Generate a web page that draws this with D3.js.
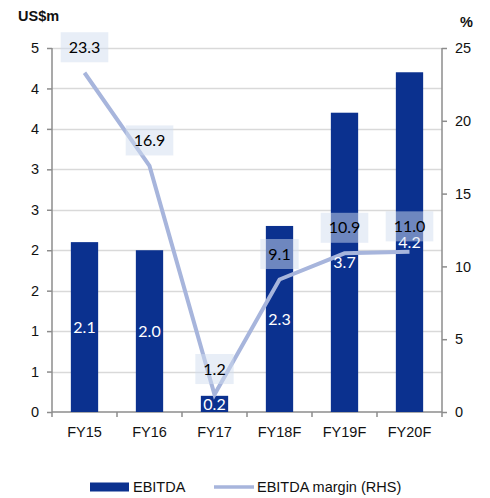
<!DOCTYPE html>
<html>
<head>
<meta charset="utf-8">
<script src="https://cdn.jsdelivr.net/npm/d3@7"></script>
<style>
  html, body { margin: 0; padding: 0; background: #fff; }
  svg { display: block; }
</style>
</head>
<body>
<svg id="chart" width="490" height="498"></svg>
<script>
// EBITDA (US$m, left axis) and EBITDA margin (%, right axis)
const categories = ["FY15", "FY16", "FY17", "FY18F", "FY19F", "FY20F"];
const ebitda = [2.1, 2.0, 0.2, 2.3, 3.7, 4.2];
const margin = [23.3, 16.9, 1.2, 9.1, 10.9, 11.0];
const leftTicks = [0, 0.5, 1, 1.5, 2, 2.5, 3, 3.5, 4, 4.5];
const leftTickLabels = ["0", "1", "1", "2", "2", "3", "3", "4", "4", "5"];
const rightTicks = [0, 5, 10, 15, 20, 25];
const rightTickLabels = ["0", "5", "10", "15", "20", "25"];

const BAR = "#0b318f";
const LINE = "#a7b5dc";
const AXIS = "#8c8c8c";
const GRID = "#d9d9d9";
const FONT = "'Liberation Sans', Arial, sans-serif";
const LABEL_FONT = "Lato, 'Open Sans', sans-serif";

const svg = d3.select("#chart");
const plot = { left: 52, right: 442, top: 48, bottom: 412 };

const x = d3.scaleBand().domain(categories).range([plot.left, plot.right]).paddingInner(0.58).paddingOuter(0.29);
const band = d3.scaleBand().domain(categories).range([plot.left, plot.right]);
const yL = d3.scaleLinear().domain([0, 4.5]).range([plot.bottom, plot.top]);
const yR = d3.scaleLinear().domain([0, 25]).range([plot.bottom, plot.top]);

// gridlines
svg.append("g").selectAll("line").data(leftTicks.slice(1)).join("line")
  .attr("x1", plot.left).attr("x2", plot.right)
  .attr("y1", d => Math.round(yL(d)) + 0.5).attr("y2", d => Math.round(yL(d)) + 0.5)
  .attr("stroke", GRID).attr("stroke-width", 1.5);

// left axis
const leftAxis = d3.axisLeft(yL).tickValues(leftTicks).tickSize(5).tickPadding(8)
  .tickFormat((d, i) => leftTickLabels[i]);
const gL = svg.append("g").attr("transform", `translate(${plot.left},0)`).call(leftAxis);

// right axis
const rightAxis = d3.axisRight(yR).tickValues(rightTicks).tickSize(5).tickPadding(8)
  .tickFormat((d, i) => rightTickLabels[i]);
const gR = svg.append("g").attr("transform", `translate(${plot.right},0)`).call(rightAxis);

// bottom axis with ticks at category boundaries
const gB = svg.append("g").attr("transform", `translate(0,${plot.bottom})`);
gB.append("line").attr("x1", plot.left).attr("x2", plot.right).attr("stroke", AXIS).attr("stroke-width", 1.5);
const bounds = categories.map(c => band(c)).concat([plot.right]);
gB.selectAll("line.tk").data(bounds).join("line").attr("class", "tk")
  .attr("x1", d => d).attr("x2", d => d).attr("y1", 0).attr("y2", 5)
  .attr("stroke", AXIS).attr("stroke-width", 1.5);
gB.selectAll("text").data(categories).join("text")
  .attr("x", d => band(d) + band.bandwidth() / 2).attr("y", 25)
  .attr("text-anchor", "middle").attr("font-family", FONT).attr("font-size", 14.5).attr("fill", "#111")
  .text(d => d);

[gL, gR].forEach(g => {
  g.select(".domain").attr("stroke", AXIS).attr("stroke-width", 1.5);
  g.selectAll(".tick line").attr("stroke", AXIS).attr("stroke-width", 1.5);
  g.selectAll(".tick text").attr("font-family", FONT).attr("font-size", 14.5).attr("fill", "#111");
});
gL.select(".domain").attr("d", `M0,${plot.top}V${plot.bottom}`);
gR.select(".domain").attr("d", `M0,${plot.top}V${plot.bottom}`);

// bars
svg.append("g").selectAll("rect").data(categories).join("rect")
  .attr("x", d => x(d)).attr("width", x.bandwidth())
  .attr("y", (d, i) => yL(ebitda[i])).attr("height", (d, i) => yL(0) - yL(ebitda[i]))
  .attr("fill", BAR);

// margin line
const cx = c => band(c) + band.bandwidth() / 2;
const line = d3.line().x((d, i) => cx(categories[i])).y(d => yR(d));
svg.append("path").datum(margin).attr("d", line)
  .attr("fill", "none").attr("stroke", LINE).attr("stroke-width", 4).attr("stroke-linejoin", "miter");

// bar value labels
svg.append("g").selectAll("text").data(categories).join("text")
  .attr("x", d => cx(d)).attr("y", (d, i) => yL(ebitda[i] / 2))
  .attr("dy", "0.35em").attr("text-anchor", "middle")
  .attr("font-family", LABEL_FONT).attr("font-size", 16).attr("fill", "#fff")
  .text((d, i) => ebitda[i].toFixed(1));

// margin value labels in translucent boxes
const lbl = svg.append("g").selectAll("g").data(categories).join("g")
  .attr("transform", (d, i) => `translate(${cx(d)},${yR(margin[i]) - 25.5})`);
lbl.append("rect").attr("y", -15).attr("height", 30).attr("fill", "rgb(210,222,240)").attr("fill-opacity", 0.5);
lbl.append("text").attr("dy", "0.35em").attr("text-anchor", "middle")
  .attr("font-family", LABEL_FONT).attr("font-size", 16).attr("fill", "#000")
  .text((d, i) => margin[i].toFixed(1));
lbl.each(function () {
  const w = d3.select(this).select("text").node().getComputedTextLength() + 16;
  d3.select(this).select("rect").attr("x", -w / 2).attr("width", w);
});

// axis titles
svg.append("text").attr("x", 18).attr("y", 21).attr("font-family", FONT).attr("font-weight", "bold")
  .attr("font-size", 14.5).attr("fill", "#111").text("US$m");
svg.append("text").attr("x", 460).attr("y", 27).attr("font-family", FONT).attr("font-weight", "bold")
  .attr("font-size", 14.5).attr("fill", "#111").text("%");

// legend
const lg = svg.append("g").attr("transform", "translate(0,487)");
lg.append("rect").attr("x", 90).attr("y", -4.5).attr("width", 39).attr("height", 9).attr("fill", BAR);
lg.append("text").attr("x", 133).attr("dy", "0.35em").attr("font-family", FONT).attr("font-size", 14.5)
  .attr("fill", "#111").text("EBITDA");
lg.append("line").attr("x1", 214).attr("x2", 254).attr("stroke", LINE).attr("stroke-width", 3.5);
lg.append("text").attr("x", 257).attr("dy", "0.35em").attr("font-family", FONT).attr("font-size", 14.5)
  .attr("fill", "#111").text("EBITDA margin (RHS)");
</script>
</body>
</html>
